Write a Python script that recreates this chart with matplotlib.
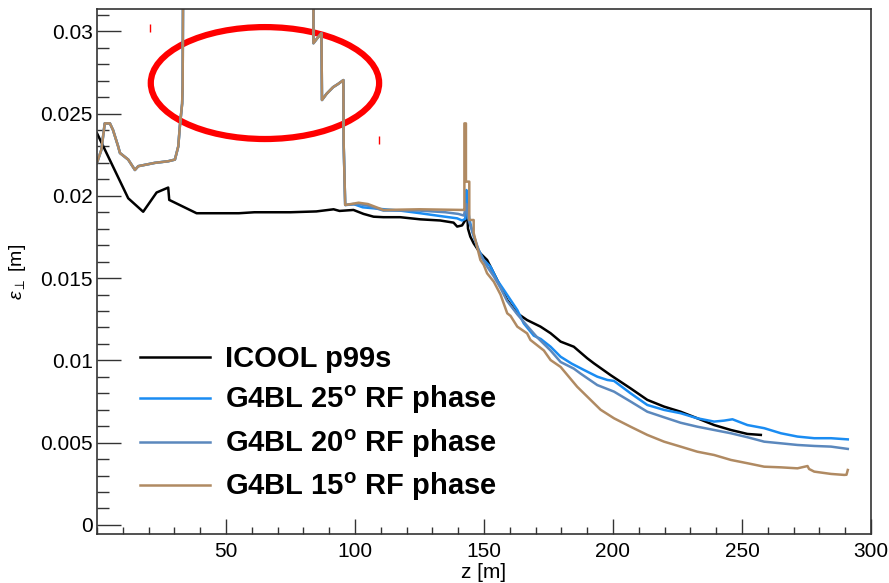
import matplotlib
matplotlib.use("Agg")
import matplotlib.pyplot as plt
from matplotlib.patches import Ellipse
from matplotlib.ticker import MultipleLocator, FixedLocator

plt.rcParams["font.family"] = ["Liberation Sans", "DejaVu Sans"]
plt.rcParams["mathtext.fontset"] = "custom"
plt.rcParams["mathtext.rm"] = "Liberation Sans"
plt.rcParams["mathtext.it"] = "Liberation Sans:italic"
plt.rcParams["mathtext.bf"] = "Liberation Sans:bold"

# ICOOL p99s
icool_z = [0, 12.1, 17.9, 23.1, 27.6, 28.0, 38.6, 55, 61, 75, 85, 91.7, 94, 99.4,
           103.3, 107.2, 111, 117.5, 125.3, 133, 138.2, 139.6, 141.5, 142.8, 143.4,
           143.8, 144.7, 146, 148.6, 151.2, 152.5, 156.4, 159, 162.9, 166.7, 171.9,
           175.8, 179.7, 184.8, 190, 192.6, 199, 206.8, 213.3, 219.8, 226.2, 232.7,
           239.2, 245.7, 252.1, 257.3]
icool_eps = [0.0238, 0.01985, 0.01903, 0.0202, 0.0205, 0.01975, 0.01894, 0.01894,
             0.0190, 0.0190, 0.01905, 0.01918, 0.01908, 0.01914, 0.0189, 0.01873,
             0.0187, 0.0187, 0.01857, 0.0185, 0.01837, 0.01813, 0.0182, 0.01853,
             0.01914, 0.0180, 0.01752, 0.01711, 0.0165, 0.0161, 0.0157, 0.01448,
             0.01367, 0.01286, 0.01245, 0.01205, 0.01165, 0.01114, 0.01083, 0.01013,
             0.00982, 0.00911, 0.0083, 0.0076, 0.00719, 0.00688, 0.00648, 0.00607,
             0.00577, 0.00553, 0.00547]

# G4BL runs share the first part (all three overlap up to z ~ 96 m)
early_z = [0, 1.7, 3.0, 5.0, 6.2, 8.2, 8.9, 12.1, 14.7, 16, 22.4, 27.6, 30.2, 31.5,
           32.1, 33.0, 33.2, 33.4, 83.9, 83.9, 85.5, 87.0, 87.2, 89, 91.5, 93.5,
           95.5, 95.6, 96.2]
early_eps = [0.0220, 0.0228, 0.0244, 0.0244, 0.0240, 0.0230, 0.0226, 0.0222,
             0.02157, 0.0218, 0.0220, 0.0221, 0.0222, 0.0230, 0.0242, 0.0256,
             0.0267, 0.0340, 0.0340, 0.02927, 0.0296, 0.02987, 0.02582, 0.0262,
             0.0266, 0.0268, 0.02703, 0.02319, 0.01944]

g25_z = [99.4, 103, 110, 117.5, 125.3, 133, 139.6, 141.5, 142.8, 143.2, 143.6,
         144.3, 145.5, 147.3, 149.9, 152.5, 155.1, 157.7, 160.3, 162.9, 165.4,
         169.3, 172, 175.8, 179.7, 184, 188.7, 193.9, 197.8, 200.4, 206.8, 213.3,
         219.8, 226.2, 232.7, 239.2, 243.1, 246.3, 252.1, 258.6, 265.1, 271.5,
         278, 284.5, 291]
g25_eps = [0.0195, 0.0193, 0.0192, 0.0191, 0.01894, 0.01877, 0.01863, 0.0185,
           0.0186, 0.02035, 0.0195, 0.0186, 0.0178, 0.0169, 0.0161, 0.0157,
           0.01488, 0.01428, 0.01367, 0.01306, 0.01225, 0.0115, 0.0113, 0.01083,
           0.01022, 0.0098, 0.00942, 0.00901, 0.00881, 0.00875, 0.0080, 0.00729,
           0.00699, 0.00679, 0.00648, 0.00628, 0.00634, 0.00642, 0.00607, 0.00588,
           0.00557, 0.00537, 0.00527, 0.00527, 0.0052]

g20_z = [101.4, 105, 111, 125, 135, 140, 142.2, 143.2, 143.6, 144.5, 146, 148.6,
         151.2, 153.8, 156.4, 159, 162.9, 166.7, 170.6, 175.8, 179.7, 184.8, 187.4,
         193.9, 200.4, 206.8, 213.3, 219.8, 226.2, 232.7, 239.2, 245.7, 252.1,
         258.6, 265.1, 271.5, 278, 284.5, 291]
g20_eps = [0.0195, 0.0194, 0.0191, 0.0191, 0.0190, 0.0189, 0.0188, 0.0195, 0.0188,
           0.0183, 0.0176, 0.0164, 0.0157, 0.0151, 0.0144, 0.0136, 0.0128, 0.0121,
           0.0114, 0.0106, 0.0099, 0.0095, 0.0092, 0.0085, 0.0081, 0.0075, 0.00688,
           0.00654, 0.00621, 0.00597, 0.00577, 0.00557, 0.00533, 0.00506, 0.00496,
           0.00486, 0.0048, 0.00476, 0.00462]

g15_z = [101.4, 105, 111, 125, 142.1, 142.4, 142.4, 143.0, 143.0, 144.3, 144.3,
         146.0, 146.0, 147.3, 148.6, 149.9, 151.2, 153.8, 156.4, 159, 160.3, 162.9,
         166.7, 168, 173.2, 175.8, 179.7, 186.1, 191.3, 195.2, 200.4, 206.8, 213.3,
         219.8, 226.2, 232.7, 239.2, 245.7, 252.1, 258.6, 265.1, 271.5, 275.4, 276,
         278, 284.5, 289.6, 290.5, 291]
g15_eps = [0.01958, 0.0195, 0.01914, 0.01918, 0.01914, 0.01914, 0.0244, 0.0244,
           0.02086, 0.02086, 0.01853, 0.01853, 0.01774, 0.01691, 0.0161, 0.0158,
           0.01529, 0.01478, 0.0140, 0.01286, 0.0127, 0.01205, 0.01164, 0.01124,
           0.0106, 0.01002, 0.0096, 0.0084, 0.0076, 0.0070, 0.00648, 0.00597,
           0.00547, 0.00506, 0.00476, 0.00445, 0.00425, 0.00395, 0.00375, 0.00354,
           0.0035, 0.00344, 0.00358, 0.0034, 0.00324, 0.0031, 0.00304, 0.00305,
           0.00334]

labels = ["ICOOL p99s",
          "G4BL 25$^{\\mathbf{o}}$ RF phase",
          "G4BL 20$^{\\mathbf{o}}$ RF phase",
          "G4BL 15$^{\\mathbf{o}}$ RF phase"]
colors = ["black", "#1a8cf2", "#5b88bd", "#b08a62"]

# red annotation
ring_center = (65.1, 0.02685)
ring_w, ring_h = 88.5, 0.0068
red_marks_z = [20.5, 109.4]
red_marks_eps = [0.0302, 0.0234]

fig = plt.figure(figsize=(8.89, 5.83), dpi=100)
ax = fig.add_axes([97 / 889, 1 - 534 / 583, 774 / 889, 525 / 583])

ax.plot(icool_z, icool_eps, color=colors[0], lw=1.8, label=labels[0])
ax.plot(early_z + g25_z, early_eps + g25_eps, color=colors[1], lw=1.8, label=labels[1])
ax.plot(early_z + g20_z, early_eps + g20_eps, color=colors[2], lw=1.8, label=labels[2])
ax.plot(early_z + g15_z, early_eps + g15_eps, color=colors[3], lw=1.8, label=labels[3])

ax.add_patch(Ellipse(ring_center, ring_w, ring_h, fill=False, ec="#ff0000", lw=4.5))
ax.plot(red_marks_z, red_marks_eps, ls="none", marker="|", ms=6, mew=1, color="#ff0000")

ax.set_xlim(0, 300)
ax.set_ylim(-0.00055, 0.03135)
ax.xaxis.set_major_locator(FixedLocator([50, 100, 150, 200, 250, 300]))
ax.xaxis.set_minor_locator(MultipleLocator(10))
ax.yaxis.set_major_locator(MultipleLocator(0.005))
ax.yaxis.set_minor_locator(MultipleLocator(0.001))
ax.yaxis.set_major_formatter(matplotlib.ticker.FuncFormatter(lambda v, p: "%g" % round(v, 4)))

ax.tick_params(axis="y", which="major", direction="in", length=17, width=1, labelsize=15, pad=3, color="#333333")
ax.tick_params(axis="y", which="minor", direction="in", length=8.5, width=1, color="#333333")
ax.tick_params(axis="x", which="major", direction="in", length=11, width=1, labelsize=15, pad=6, color="#333333")
ax.tick_params(axis="x", which="minor", direction="in", length=5, width=1, color="#333333")
for s in ax.spines.values():
    s.set_color("#333333")
    s.set_linewidth(1.2)

ax.set_xlabel("z [m]", fontsize=15, va="center")
ax.xaxis.set_label_coords(0.5, -0.074)
ax.set_ylabel("$\\epsilon_{\\perp}$ [m]", fontsize=14)
ax.yaxis.set_label_coords(-0.089, 0.5)

leg = ax.legend(loc="upper left", bbox_to_anchor=(140 / 889, 1 - 345 / 583),
                bbox_transform=fig.transFigure, frameon=False, borderpad=0,
                borderaxespad=0, handlelength=2.4, handletextpad=0.5,
                labelspacing=0.38, prop={"weight": "bold", "size": 21})

fig.savefig("out.png", dpi=100)
